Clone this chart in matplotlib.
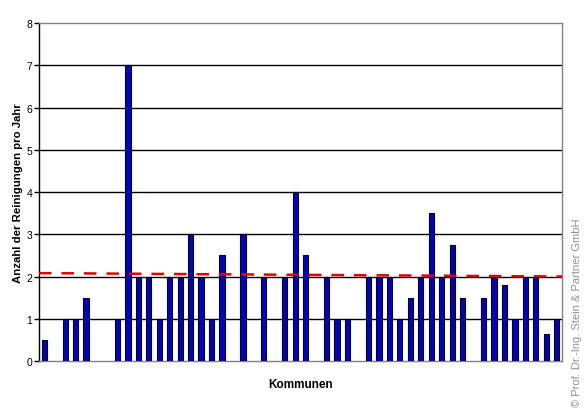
import matplotlib
matplotlib.use("Agg")
import matplotlib.pyplot as plt
import numpy as np

plt.rcParams['font.family'] = ['Liberation Sans', 'DejaVu Sans']

# 50 municipalities; None = no value
values = [0.5, None, 1, 1, 1.5, None, None, 1, 7, 2,
          2, 1, 2, 2, 3, 2, 1, 2.5, None, 3,
          None, 2, None, 2, 4, 2.5, None, 2, 1, 1,
          None, 2, 2, 2, 1, 1.5, 2, 3.5, 2, 2.75,
          1.5, None, 1.5, 2, 1.8, 1, 2, 2, 0.65, 1]
trend_start = 2.08
trend_end = 2.0
y_ticks = [0, 1, 2, 3, 4, 5, 6, 7, 8]

fig = plt.figure(figsize=(5.87, 4.14), dpi=100)
ax = fig.add_axes([0.0664, 0.1256, 0.891, 0.8164])

x = np.arange(len(values))
vals = np.array([np.nan if v is None else v for v in values])
mask = ~np.isnan(vals)
ax.bar(x[mask], vals[mask], width=0.5, color='#0000C8', edgecolor='black', linewidth=0.8, zorder=3)

ax.set_xlim(-0.5, len(values) - 0.5)
ax.set_ylim(0, 8)
ax.set_yticks(y_ticks)
ax.set_xticks([])
for t in y_ticks[1:-1]:
    ax.axhline(t, color='black', linewidth=1.0, zorder=1)

ax.plot([-0.5, len(values) - 0.5], [trend_start, trend_end], color='#E00000',
        linewidth=1.8, dashes=(5, 4), zorder=4)

for s in ['top', 'right', 'bottom']:
    ax.spines[s].set_color('#808080')
    ax.spines[s].set_linewidth(1.0)
ax.spines['left'].set_color('black')
ax.spines['left'].set_linewidth(1.0)
ax.tick_params(axis='y', direction='out', length=3.5, width=1, labelsize=7.5, pad=1.5)

ax.set_ylabel('Anzahl der Reinigungen pro Jahr', fontsize=8.2, fontweight='bold')
ax.yaxis.set_label_coords(-0.031, 0.5)
ax.set_xlabel('Kommunen', fontsize=8.5, fontweight='bold', labelpad=12)

fig.text(0.983, 0.245, '\u00a9 Prof. Dr.-Ing. Stein & Partner GmbH', rotation=90,
         fontsize=8, color='#909090', ha='center', va='center')

fig.savefig('out.png', dpi=100)
